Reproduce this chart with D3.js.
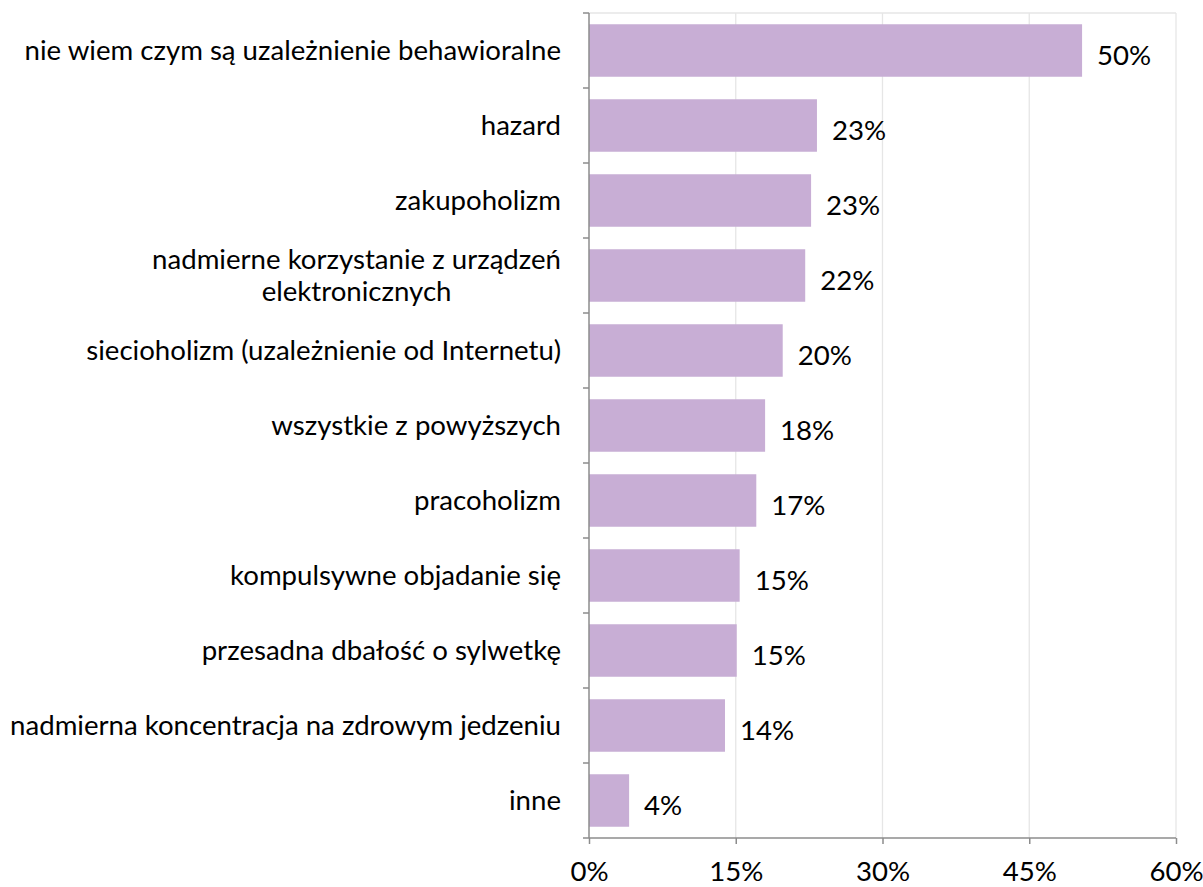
<!DOCTYPE html>
<html>
<head>
<meta charset="utf-8">
<script src="https://cdn.jsdelivr.net/npm/d3@7"></script>
<style>
  body { margin: 0; background: #fff; }
  text { font-family: Lato, "Open Sans", sans-serif; fill: #000; }
</style>
</head>
<body>
<svg width="1203" height="887"></svg>
<script>
// categories (top to bottom), each label split into lines
var categories = [
    ["nie wiem czym są uzależnienie behawioralne"],
    ["hazard"],
    ["zakupoholizm"],
    ["nadmierne korzystanie z urządzeń", "elektronicznych"],
    ["siecioholizm (uzależnienie od Internetu)"],
    ["wszystkie z powyższych"],
    ["pracoholizm"],
    ["kompulsywne objadanie się"],
    ["przesadna dbałość o sylwetkę"],
    ["nadmierna koncentracja na zdrowym jedzeniu"],
    ["inne"]
];
// share of answers, %
var values = [50.4, 23.3, 22.7, 22.1, 19.8, 18.0, 17.1, 15.4, 15.1, 13.9, 4.1];
var valueLabels = ["50%", "23%", "23%", "22%", "20%", "18%", "17%", "15%", "15%", "14%", "4%"];
var xTicks = [0, 15, 30, 45, 60];

var svg = d3.select("svg");
var margin = {top: 13, right: 27, bottom: 49, left: 589};
var width = +svg.attr("width") - margin.left - margin.right,
    height = +svg.attr("height") - margin.top - margin.bottom;
var fontSize = "27.6px";

var g = svg.append("g")
        .attr("transform", "translate(" + margin.left + "," + margin.top + ")");

var xScale = d3.scaleLinear().domain([0, 60]).range([0, width]);
var yScale = d3.scaleBand()
        .domain(d3.range(categories.length))
        .range([0, height])
        .paddingInner(0.3)
        .paddingOuter(0.15);

// gridlines
g.selectAll("line.grid")
        .data(xTicks.slice(1))
        .enter()
        .append("line")
        .attr("class", "grid")
        .attr("x1", function (d) { return xScale(d); })
        .attr("x2", function (d) { return xScale(d); })
        .attr("y1", 0)
        .attr("y2", height)
        .attr("stroke", "#e6e6e6")
        .attr("stroke-width", 1.3);
g.append("line")
        .attr("x1", 0).attr("x2", width)
        .attr("y1", 0).attr("y2", 0)
        .attr("stroke", "#e6e6e6")
        .attr("stroke-width", 1.3);

// bars
g.selectAll("rect.bar")
        .data(values)
        .enter()
        .append("rect")
        .attr("class", "bar")
        .attr("x", 0)
        .attr("y", function (d, i) { return yScale(i); })
        .attr("width", function (d) { return xScale(d); })
        .attr("height", yScale.bandwidth())
        .attr("fill", "#c8aed5");

// value labels
g.selectAll("text.val")
        .data(values)
        .enter()
        .append("text")
        .attr("class", "val")
        .attr("x", function (d) { return xScale(d) + 15; })
        .attr("y", function (d, i) { return yScale(i) + yScale.bandwidth() / 2 + 5; })
        .attr("dy", "0.35em")
        .attr("font-size", fontSize)
        .text(function (d, i) { return valueLabels[i]; });

// x axis
var xAxis = d3.axisBottom(xScale)
        .tickValues(xTicks)
        .tickSize(6)
        .tickPadding(17)
        .tickFormat(function (d) { return d + "%"; });
var gX = g.append("g")
        .attr("transform", "translate(0," + height + ")")
        .call(xAxis);
gX.select(".domain").attr("stroke", "#8c8c8c").attr("stroke-width", 1.5)
        .attr("d", "M0,0H" + width);
gX.selectAll(".tick line").attr("stroke", "#8c8c8c").attr("stroke-width", 1.5);
gX.selectAll(".tick text").attr("font-size", fontSize).attr("font-family", "Lato, 'Open Sans', sans-serif").attr("fill", "#000");

// y axis line and tick marks on band boundaries
g.append("line")
        .attr("x1", 0).attr("x2", 0)
        .attr("y1", 0).attr("y2", height)
        .attr("stroke", "#8c8c8c")
        .attr("stroke-width", 1.5);
g.selectAll("line.ytick")
        .data(d3.range(categories.length + 1))
        .enter()
        .append("line")
        .attr("class", "ytick")
        .attr("x1", -6).attr("x2", 0)
        .attr("y1", function (d) { return d * height / categories.length; })
        .attr("y2", function (d) { return d * height / categories.length; })
        .attr("stroke", "#8c8c8c")
        .attr("stroke-width", 1.5);

// category labels
var lineH = 32;
categories.forEach(function (lines, i) {
    var cy = yScale(i) + yScale.bandwidth() / 2;
    var y0 = cy - (lines.length - 1) * lineH / 2;
    var first = g.append("text")
            .attr("x", -28)
            .attr("y", y0)
            .attr("dy", "0.35em")
            .attr("text-anchor", "end")
            .attr("font-size", fontSize)
            .text(lines[0]);
    var w = first.node().getComputedTextLength();
    for (var k = 1; k < lines.length; k++) {
        g.append("text")
                .attr("x", -28 - w / 2)
                .attr("y", y0 + k * lineH)
                .attr("dy", "0.35em")
                .attr("text-anchor", "middle")
                .attr("font-size", fontSize)
                .text(lines[k]);
    }
});
</script>
</body>
</html>
